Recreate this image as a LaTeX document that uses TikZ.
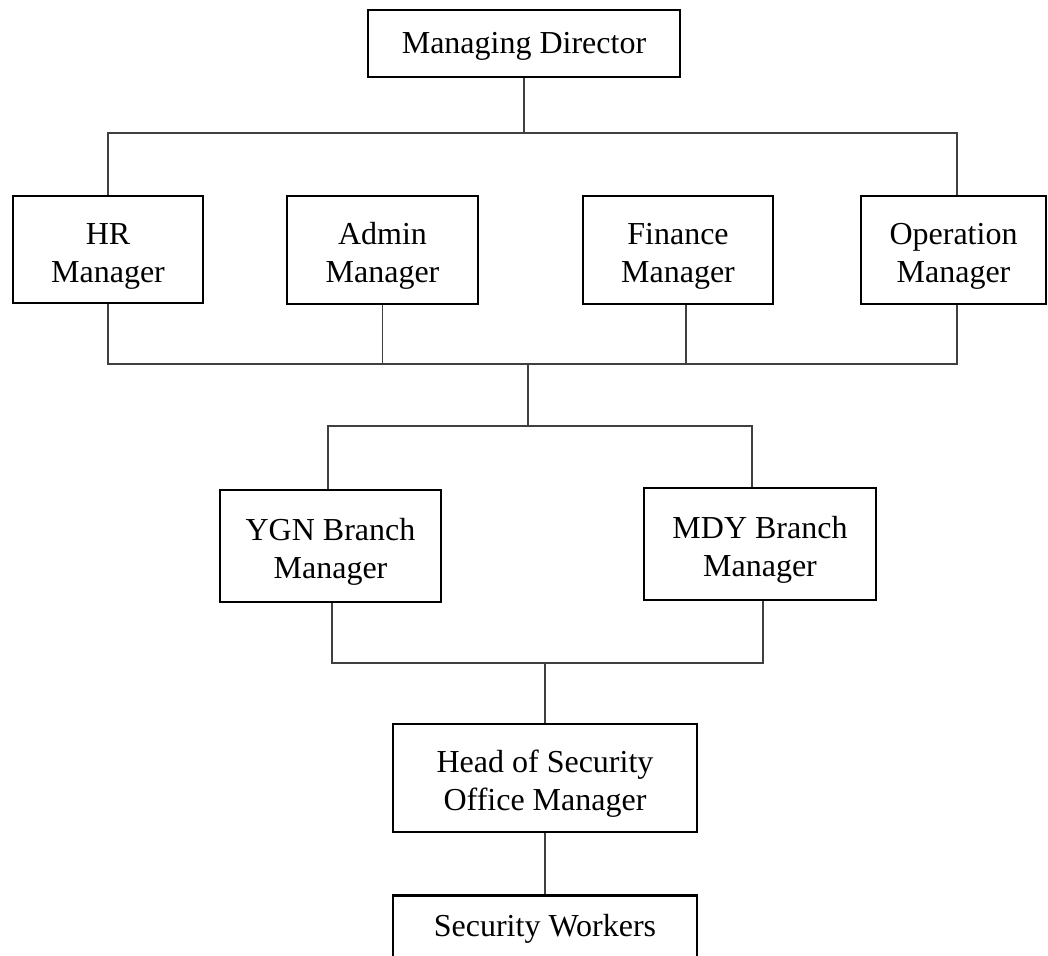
\documentclass[tikz,border=0pt]{standalone}
\usepackage{fontspec}
\setmainfont{Liberation Serif}
\newcommand{\lowstrut}{\rule{0pt}{34pt}}

\begin{document}
\begin{tikzpicture}[x=1pt,y=-1pt,
  box/.style={draw,line width=2.8pt,align=center,inner sep=0pt,font=\fontsize{32}{38}\selectfont},
  link/.style={line width=1.4pt,draw=black!75}]
\useasboundingbox (0,0) rectangle (1048,955);
\clip (0,0) rectangle (1048,955);
% top
\node[box,minimum width=312,minimum height=67] (md) at (524,43.5) {\rule{0pt}{27pt}Managing Director};
% managers
\node[box,minimum width=190,minimum height=107] (hr) at (108,249.5) {\lowstrut HR\\Manager};
\node[box,minimum width=191,minimum height=108] (adm) at (382.5,250) {\lowstrut Admin\\Manager};
\node[box,minimum width=190,minimum height=108] (fin) at (678,250) {\lowstrut Finance\\Manager};
\node[box,minimum width=185,minimum height=108] (op) at (953.5,250) {\lowstrut Operation\\Manager};
% branches
\node[box,minimum width=221,minimum height=112] (ygn) at (330.5,546) {\lowstrut YGN Branch\\Manager};
\node[box,minimum width=232,minimum height=112] (mdy) at (760,544) {\lowstrut MDY Branch\\Manager};
% security
\node[box,minimum width=304,minimum height=108] (hos) at (545,778) {\lowstrut Head of Security\\Office Manager};
\node[box,minimum width=304,anchor=north,inner ysep=19pt,text depth=70pt] (sw) at (545,894) {Security Workers};
% bus points
\coordinate (bus1) at (524,133);
\coordinate (bus2) at (528,364);
\coordinate (bus3) at (528,426);
\coordinate (bus4) at (545,663);
% links
\draw[link] (md.south) -- (bus1);
\draw[link] (hr.north) |- (bus1) -| ([xshift=3.5pt]op.north);
\draw[link] (hr.south) |- (bus2) -| ([xshift=3.5pt]op.south);
\draw[link] (adm.south) -- (adm.south |- bus2);
\draw[link] ([xshift=8pt]fin.south) -- ([xshift=8pt]fin.south |- bus2);
\draw[link] (bus2) -- (bus3);
\draw[link] ([xshift=-2.5pt]ygn.north) |- (bus3) -| ([xshift=-8pt]mdy.north);
\draw[link] ([xshift=1.5pt]ygn.south) |- (bus4) -| ([xshift=3pt]mdy.south);
\draw[link] (bus4) -- (hos.north);
\draw[link] (hos.south) -- (sw.north);
\end{tikzpicture}
\end{document}
